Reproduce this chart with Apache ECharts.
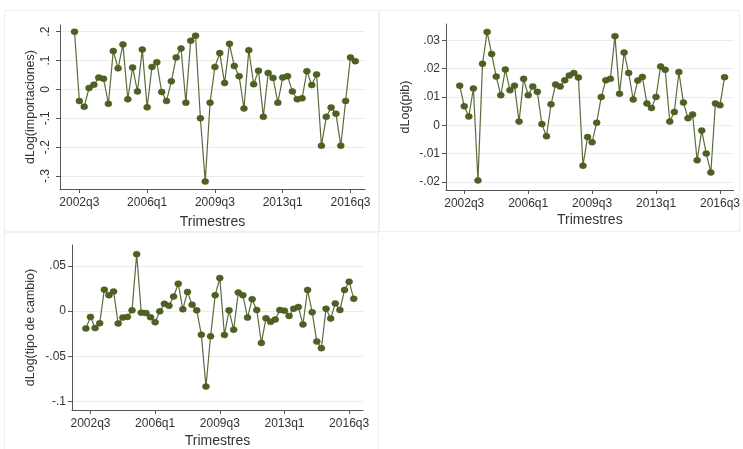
<!DOCTYPE html>
<html>
<head>
<meta charset="utf-8">
<script src="https://cdn.jsdelivr.net/npm/echarts@6/dist/echarts.min.js"></script>
<style>
html,body{margin:0;padding:0;background:#fff;}
#chart{width:743px;height:449px;}
</style>
</head>
<body>
<div id="chart"></div>
<script>
// Quarterly data, first observation 2002q2
const firstYear = 2002;
const firstQuarter = 2;

const importaciones = [0.200, -0.040, -0.060, 0.005, 0.016, 0.041, 0.037, -0.050, 0.133, 0.073,
  0.156, -0.034, 0.076, -0.007, 0.138, -0.062, 0.078, 0.094, -0.009, -0.040,
  0.028, 0.111, 0.142, -0.046, 0.169, 0.186, -0.100, -0.319, -0.046, 0.078,
  0.126, 0.022, 0.158, 0.081, 0.046, -0.066, 0.136, 0.018, 0.065, -0.095,
  0.057, 0.040, -0.046, 0.041, 0.046, -0.007, -0.034, -0.031, 0.063, 0.015,
  0.052, -0.195, -0.095, -0.063, -0.084, -0.195, -0.040, 0.111, 0.098];

const pib = [0.0140, 0.0067, 0.0031, 0.0130, -0.0195, 0.0217, 0.0330, 0.0252, 0.0172, 0.0106,
  0.0197, 0.0124, 0.0140, 0.0013, 0.0164, 0.0106, 0.0137, 0.0118, 0.0004, -0.0039,
  0.0074, 0.0144, 0.0137, 0.0159, 0.0176, 0.0185, 0.0169, -0.0143, -0.0042, -0.0060,
  0.0009, 0.0100, 0.0159, 0.0164, 0.0315, 0.0111, 0.0257, 0.0185, 0.0091, 0.0158,
  0.0171, 0.0077, 0.0061, 0.0100, 0.0208, 0.0196, 0.0013, 0.0047, 0.0188, 0.0080,
  0.0025, 0.0038, -0.0124, -0.0019, -0.0100, -0.0167, 0.0077, 0.0071, 0.0170];

const tipoCambio = [-0.0193, -0.0065, -0.0189, -0.0135, 0.0236, 0.0175, 0.0215, -0.0138, -0.0073, -0.0065,
  0.0007, 0.0629, -0.0018, -0.0022, -0.0069, -0.0124, -0.0004, 0.0080, 0.0058, 0.0160,
  0.0302, 0.0018, 0.0211, 0.0069, 0.0007, -0.0262, -0.0836, -0.0280, 0.0175, 0.0364,
  -0.0265, 0.0007, -0.0207, 0.0204, 0.0175, -0.0073, 0.0131, 0.0011, -0.0353, -0.0080,
  -0.0120, -0.0095, 0.0011, 0.0004, -0.0055, 0.0025, 0.0044, -0.0149, 0.0233, -0.0015,
  -0.0338, -0.0411, 0.0025, -0.0084, 0.0084, 0.0011, 0.0233, 0.0324, 0.0135];

const xTickLabels = ['2002q3', '2006q1', '2009q3', '2013q1', '2016q3'];
const xRange = ['2001q3', '2017q2'];
const impTicks = [-0.3, -0.2, -0.1, 0, 0.1, 0.2];
const pibTicks = [-0.02, -0.01, 0, 0.01, 0.02, 0.03];
const tcTicks = [-0.1, -0.05, 0, 0.05];
const yNames = ['dLog(importaciones)', 'dLog(pib)', 'dLog(tipo de cambio)'];
const xName = 'Trimestres';

function qIndex(label) {
  const p = label.split('q');
  return Number(p[0]) * 4 + Number(p[1]) - 1;
}
function qLabel(v) {
  v = Math.round(v);
  return Math.floor(v / 4) + 'q' + (v % 4 + 1);
}
function stataNum(v) {
  let s = String(Math.round(v * 10000) / 10000);
  return s.replace(/^(-?)0\./, '$1.');
}
function toPairs(arr) {
  const start = firstYear * 4 + firstQuarter - 1;
  return arr.map((v, i) => [start + i, v]);
}

const FONT = 'Liberation Sans, Arial, sans-serif';
const lineColor = '#5b6b3c';
const markColor = '#4d6121';
const axisColor = '#555';

const grids = [
  {left: 60, top: 25, width: 305, height: 164},
  {left: 446, top: 24, width: 291, height: 166},
  {left: 72, top: 245, width: 291, height: 167}
];
const yRanges = [[-0.345, 0.2232], [-0.0229, 0.0358], [-0.1095, 0.073]];
const yTicks = [impTicks, pibTicks, tcTicks];
const yNameGaps = [23, 34, 35];
const yLabelRot = [90, 0, 0];
const yLabelMargin = [8, 6, 6];
const xNameGaps = [26, 23, 24];

const xTickVals = xTickLabels.map(qIndex);

const option = {
  animation: false,
  backgroundColor: '#fff',
  graphic: [
    {type: 'rect', shape: {x: 4.5, y: 10.5, width: 374, height: 221}, style: {fill: 'none', stroke: '#efefef', lineWidth: 1}, z: -1},
    {type: 'rect', shape: {x: 379.5, y: 10.5, width: 360, height: 221}, style: {fill: 'none', stroke: '#efefef', lineWidth: 1}, z: -1},
    {type: 'rect', shape: {x: 4.5, y: 232.5, width: 374, height: 220}, style: {fill: 'none', stroke: '#efefef', lineWidth: 1}, z: -1}
  ],
  grid: grids,
  xAxis: grids.map((g, i) => ({
    type: 'value',
    gridIndex: i,
    min: qIndex(xRange[0]),
    max: qIndex(xRange[1]),
    name: xName,
    nameLocation: 'middle',
    nameGap: xNameGaps[i],
    nameTextStyle: {fontFamily: FONT, fontSize: 14, color: '#333'},
    axisLine: {show: true, onZero: false, lineStyle: {color: axisColor, width: 1}},
    axisTick: {show: true, length: 4, customValues: xTickVals, lineStyle: {color: axisColor}},
    axisLabel: {show: true, customValues: xTickVals, formatter: qLabel, margin: 8,
      fontFamily: FONT, fontSize: 12, color: '#333', showMinLabel: true, showMaxLabel: true, hideOverlap: false},
    splitLine: {show: false}
  })),
  yAxis: grids.map((g, i) => ({
    type: 'value',
    gridIndex: i,
    min: yRanges[i][0],
    max: yRanges[i][1],
    name: yNames[i],
    nameLocation: 'middle',
    nameGap: yNameGaps[i],
    nameRotate: 90,
    nameTextStyle: {fontFamily: FONT, fontSize: 12.5, color: '#333'},
    axisLine: {show: true, onZero: false, lineStyle: {color: axisColor, width: 1}},
    axisTick: {show: true, length: 4, customValues: yTicks[i], lineStyle: {color: axisColor}},
    axisLabel: {show: true, customValues: yTicks[i], formatter: stataNum, rotate: yLabelRot[i],
      margin: yLabelMargin[i], fontFamily: FONT, fontSize: 12, color: '#333', hideOverlap: false},
    splitLine: {show: true, lineStyle: {color: '#ebebeb', width: 1}}
  })),
  series: [importaciones, pib, tipoCambio].map((arr, i) => ({
    type: 'line',
    xAxisIndex: i,
    yAxisIndex: i,
    data: toPairs(arr),
    symbol: 'circle',
    symbolSize: [7, 6],
    showSymbol: true,
    lineStyle: {color: lineColor, width: 1.2},
    itemStyle: {color: markColor, borderColor: '#44561c', borderWidth: 0.5},
    emphasis: {disabled: true}
  }))
};

const chart = echarts.init(document.getElementById('chart'), null, {renderer: 'canvas'});
chart.setOption(option);
</script>
</body>
</html>
